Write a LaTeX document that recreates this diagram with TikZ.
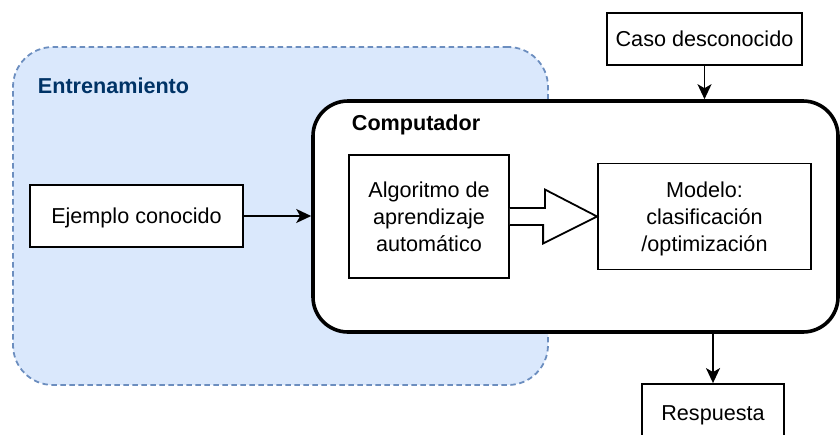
\documentclass[tikz,border=0pt]{standalone}
\usepackage{fontspec}
\setmainfont{Liberation Sans}
\usepackage{tikz}
\usetikzlibrary{arrows.meta}
\definecolor{trainfill}{HTML}{DAE8FC}
\definecolor{trainline}{HTML}{6C8EBF}
\definecolor{trainlabel}{HTML}{003366}

\begin{document}
\begin{tikzpicture}[x=1pt, y=1pt, line width=1.8pt,
        box/.style={draw, fill=white, inner sep=0pt, text depth=0pt, align=center, font=\fontsize{21.6}{27}\selectfont},
        arr/.style={-{Stealth[length=15pt,width=14pt,inset=4pt]}},
        title/.style={anchor=base west, inner sep=0pt, font=\fontsize{21.6}{26}\selectfont\bfseries}]
        \useasboundingbox (0,0) rectangle (840,-434);
        \clip (0,0) rectangle (840,-434);
        \node[draw=trainline, fill=trainfill, dash pattern=on 5.4pt off 3.6pt, rounded corners=40pt,
              minimum width=535pt, minimum height=338pt] (train) at (280.5,-216) {};
        \node[title, text=trainlabel] (trainlbl) at (37,-93) {Entrenamiento};
        \node[draw, fill=white, line width=3.6pt, rounded corners=35pt,
              minimum width=525pt, minimum height=231pt] (comp) at (575.5,-216.5) {};
        \node[title] (complbl) at (351,-130) {Computador};
        \node[box, minimum width=213pt, minimum height=62pt] (ej) at (136.5,-216) {Ejemplo conocido};
        \node[box, minimum width=160pt, minimum height=123pt] (algo) at (429,-216.5) {Algoritmo de\\aprendizaje\\automático};
        \node[box, minimum width=213pt, minimum height=106pt] (model) at (704.5,-216.5) {Modelo:\\clasificación\\/optimización};
        \node[box, minimum width=195pt, minimum height=52pt] (caso) at (704.5,-39) {Caso desconocido};
        \node[box, minimum width=142pt, minimum height=58pt] (resp) at (713,-413) {Respuesta};
        \draw[arr] (ej.east) -- (ej.east -| comp.west);
        \draw[arr] (caso.south) -- (caso.south |- comp.north);
        \draw[arr] (comp.south -| resp.north) -- (resp.north);
        \draw[fill=white] ([yshift=8.5pt]algo.east) -- ++(35,0) -- ++(0,18.5) -- (model.west)
            -- ++(-54,-27) -- ++(0,18.5) -- ([yshift=-8.5pt]algo.east);
\end{tikzpicture}
\end{document}
